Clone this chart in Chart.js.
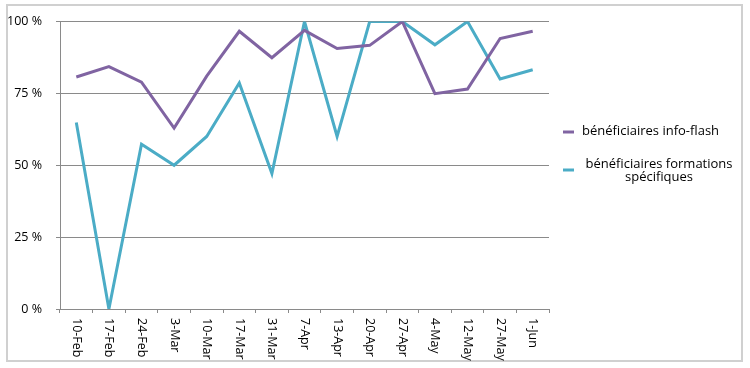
<!DOCTYPE html>
<html><head><meta charset="utf-8">
<script src="https://cdn.jsdelivr.net/npm/chart.js@4"></script>
<style>html,body{margin:0;padding:0;background:#fff}#wrap{width:750px;height:368px;position:relative}</style>
</head><body><div id="wrap"><canvas id="c" width="750" height="368"></canvas></div>
<script>
const categories = ['10-Feb','17-Feb','24-Feb','3-Mar','10-Mar','17-Mar','31-Mar','7-Apr','13-Apr','20-Apr','27-Apr','4-May','12-May','27-May','1-Jun'];
const infoFlash = [80.7,84.3,78.9,62.9,81,96.6,87.4,96.9,90.6,91.7,100,74.9,76.5,94.1,96.6];
const formations = [64.9,0,57.3,50,60,78.6,47.1,100,60,100,100,91.9,100,80,83.2];
const seriesNames = [['bénéficiaires info-flash'], ['bénéficiaires formations', 'spécifiques']];
const yTicks = [0,25,50,75,100];

const FAMILY = '"Open Sans", "DejaVu Sans", sans-serif';
const COLORS = ['#8064A2', '#4BACC6'];

const decor = {
  id: 'decor',
  beforeDraw(chart) {
    const ctx = chart.ctx;
    ctx.save();
    ctx.fillStyle = '#fff';
    ctx.fillRect(0, 0, chart.width, chart.height);
    ctx.strokeStyle = '#d0d0d0';
    ctx.lineWidth = 2;
    ctx.strokeRect(7, 5, 735, 356);
    ctx.restore();
  },
  afterDraw(chart) {
    const ctx = chart.ctx;
    const xs = chart.scales.x;
    ctx.save();
    ctx.font = '12.5px ' + FAMILY;
    ctx.fillStyle = '#000';
    categories.forEach((lab, i) => {
      const x = xs.getPixelForValue(i);
      ctx.save();
      ctx.translate(x, 318);
      ctx.rotate(Math.PI / 2);
      ctx.textAlign = 'left';
      ctx.textBaseline = 'middle';
      ctx.fillText(lab, 0, 0);
      ctx.restore();
    });
    // legend
    ctx.font = '13px ' + FAMILY;
    const items = [
      {y: 132, lines: seriesNames[0], lineY: [131], align: 'left', tx: 582},
      {y: 170, lines: seriesNames[1], lineY: [164, 177], align: 'center', tx: 659}
    ];
    items.forEach((it, k) => {
      ctx.strokeStyle = COLORS[k];
      ctx.lineWidth = 3;
      ctx.beginPath();
      ctx.moveTo(563, it.y);
      ctx.lineTo(574, it.y);
      ctx.stroke();
      ctx.textAlign = it.align;
      ctx.textBaseline = 'middle';
      it.lines.forEach((t, j) => ctx.fillText(t, it.tx, it.lineY[j]));
    });
    ctx.restore();
  }
};

new Chart(document.getElementById('c'), {
  type: 'line',
  data: {
    labels: categories,
    datasets: [
      {label: seriesNames[0].join(' '), data: infoFlash, borderColor: COLORS[0], backgroundColor: COLORS[0], borderWidth: 3, pointRadius: 0, tension: 0, borderJoinStyle: 'miter'},
      {label: seriesNames[1].join(' '), data: formations, borderColor: COLORS[1], backgroundColor: COLORS[1], borderWidth: 3, pointRadius: 0, tension: 0, borderJoinStyle: 'miter'}
    ]
  },
  options: {
    responsive: false,
    animation: false,
    layout: {padding: {left: 0, right: 201, top: 21, bottom: 0}},
    plugins: {legend: {display: false}, tooltip: {enabled: false}},
    scales: {
      x: {
        offset: true,
        grid: {display: true, offset: true, drawOnChartArea: false, drawTicks: true, tickLength: 4, color: '#8a8a8a'},
        border: {display: true, color: '#8a8a8a'},
        ticks: {display: false},
        afterFit(s) { s.height = 59; }
      },
      y: {
        min: 0, max: 100,
        afterBuildTicks(s) { s.ticks = yTicks.map(v => ({value: v})); },
        grid: {color: '#8a8a8a', tickLength: 4, drawTicks: true},
        border: {display: true, color: '#8a8a8a'},
        ticks: {padding: 14, color: '#000', font: {family: FAMILY, size: 12.5}, callback: v => v + ' %'},
        afterFit(s) { s.width = 60; }
      }
    }
  },
  plugins: [decor]
});
</script></body></html>
